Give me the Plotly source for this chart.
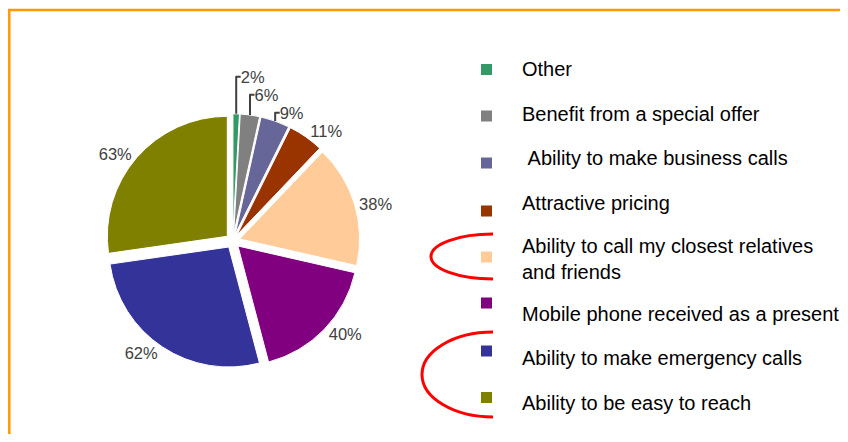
import plotly.graph_objects as go

# ---- data ----
categories = [
    "Other",
    "Benefit from a special offer",
    " Ability to make business calls",
    "Attractive pricing",
    "Ability to call my closest relatives and friends",
    "Mobile phone received as a present",
    "Ability to make emergency calls",
    "Ability to be easy to reach",
]
values = [2, 6, 9, 11, 38, 40, 62, 63]
value_labels = [f"{v}%" for v in values]
colors = ["#339966", "#808080", "#666699", "#993300",
          "#FFCC99", "#800080", "#333399", "#808000"]

# ---- layout helpers (page pixel -> paper); page body has an 8px margin ----
OFF = 8
W, H = 848 - 2 * OFF, 442 - 2 * OFF
def px(x):
    return (x - OFF) / W
def py(y):
    return 1 - (y - OFF) / H

fig = go.Figure()
fig.add_trace(go.Pie(
    labels=categories,
    values=values,
    text=value_labels,
    textinfo="text",
    textposition="outside",
    outsidetextfont=dict(family="Liberation Sans, Arial, sans-serif", size=16.5, color="#404040"),
    marker=dict(colors=colors, line=dict(color="white", width=1)),
    pull=[0.06] * len(values),
    sort=False,
    direction="clockwise",
    rotation=0,
    hole=0,
    domain=dict(x=[px(105.5), px(360)], y=[py(368.2), py(113.8)]),
    showlegend=False,
    hoverinfo="label+text",
))

shapes = []
annotations = []

# orange frame
shapes.append(dict(type="rect", xref="paper", yref="paper",
                   x0=px(9.3), x1=px(900), y0=py(10), y1=py(500),
                   line=dict(color="#FF9900", width=2.5), fillcolor="rgba(0,0,0,0)"))

# custom legend
legend_text_y = [69, 114, 158, 203, 259, 314, 358, 403]
legend_marker_y = [69.5, 116, 163, 211, 257, 303, 351, 397.5]
legend_text_x = 521
marker_cx = 486.5
marker_half = 5.5
for i, cat in enumerate(categories):
    shapes.append(dict(type="rect", xref="paper", yref="paper",
                       x0=px(marker_cx - marker_half), x1=px(marker_cx + marker_half),
                       y0=py(legend_marker_y[i] + marker_half), y1=py(legend_marker_y[i] - marker_half),
                       line=dict(width=0), fillcolor=colors[i]))
    txt = cat
    if txt.startswith(" "):
        txt = "\u00a0" + txt[1:]
    if cat == "Ability to call my closest relatives and friends":
        txt = "Ability to call my closest relatives<br>and friends"
    annotations.append(dict(xref="paper", yref="paper", x=px(legend_text_x), y=py(legend_text_y[i]),
                            text=txt, showarrow=False, xanchor="left", yanchor="middle",
                            align="left", xshift=-1,
                            font=dict(family="Liberation Sans, Arial, sans-serif", size=20, color="black")))

# red highlight arcs (left halves of ellipses)
def half_ellipse(xr, ytop, ybot, xleft):
    k = 0.5523
    cy = (ytop + ybot) / 2
    rx = xr - xleft
    ry = (ybot - ytop) / 2
    pts = [
        (xr, ytop),
        (xr - k * rx, ytop), (xleft, cy - k * ry), (xleft, cy),
        (xleft, cy + k * ry), (xr - k * rx, ybot), (xr, ybot),
    ]
    p = [(px(a), py(b)) for a, b in pts]
    return (f"M {p[0][0]},{p[0][1]} C {p[1][0]},{p[1][1]} {p[2][0]},{p[2][1]} {p[3][0]},{p[3][1]} "
            f"C {p[4][0]},{p[4][1]} {p[5][0]},{p[5][1]} {p[6][0]},{p[6][1]}")

for (xr, yt, yb, xl) in [(493, 234, 279, 431), (493, 332, 417, 422)]:
    shapes.append(dict(type="path", xref="paper", yref="paper",
                       path=half_ellipse(xr, yt, yb, xl),
                       line=dict(color="#FF0000", width=3)))

fig.update_layout(
    width=W, height=H,
    margin=dict(l=0, r=0, t=0, b=0),
    paper_bgcolor="white",
    plot_bgcolor="white",
    shapes=shapes,
    annotations=annotations,
    showlegend=False,
)

fig.write_html("out.html")
